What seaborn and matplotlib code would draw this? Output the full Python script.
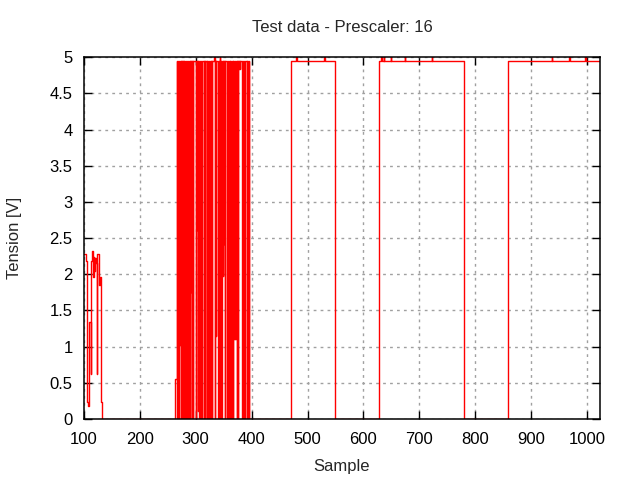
import matplotlib
matplotlib.use("Agg")
import matplotlib.pyplot as plt
import seaborn as sns
import pandas as pd

# first burst: sample where the level changes, and the level (V) from there on
early_samples = [100, 103, 105, 106, 108, 109, 110, 112, 113, 115, 116, 117, 118, 119, 120,
                 122, 123, 124, 127, 129, 131, 133]
early_tension = [2.28, 2.18, 1.97, 0.23, 0.18, 1.27, 1.34, 0.62, 2.18, 2.32, 2.18, 1.96, 2.24, 2.04, 2.22,
                 2.15, 0.62, 2.28, 1.85, 1.96, 0.23, 0.0]

# fast switching part, one value per sample (263 .. 396)
dense_samples = list(range(263, 397))
dense_tension = [0.55, 0.55, 0.55, 4.95, 0.0, 4.95, 0.0, 4.95, 1.02, 4.95,   # 263-272
                 0.0, 4.95, 0.0, 4.95, 0.0, 4.95, 0.0, 4.95, 0.0, 4.95,      # 273-282
                 0.0, 4.95, 0.0, 4.95, 0.0, 4.95, 0.0, 4.95, 1.76, 4.95,     # 283-292
                 0.0, 4.95, 0.0, 4.95, 4.95, 4.95, 4.95, 0.0, 4.95, 2.61,    # 293-302
                 4.95, 0.11, 4.95, 0.0, 4.95, 0.0, 4.95, 0.0, 4.95, 4.95,    # 303-312
                 4.95, 0.0, 4.95, 0.0, 4.95, 4.95, 4.95, 0.0, 4.95, 0.0,     # 313-322
                 4.95, 0.0, 4.95, 4.95, 0.0, 4.95, 0.0, 4.95, 4.95, 4.95,    # 323-332
                 5.0, 0.0, 4.95, 1.15, 4.95, 4.95, 4.95, 0.0, 4.95, 0.0,     # 333-342
                 5.0, 0.0, 4.95, 0.0, 4.95, 1.97, 4.95, 2.42, 4.95, 0.0,     # 343-352
                 4.95, 4.95, 4.95, 0.0, 4.95, 0.0, 4.95, 4.95, 0.0, 4.95,    # 353-362
                 4.95, 0.0, 4.95, 0.0, 4.95, 4.95, 1.10, 4.95, 1.10, 4.95,   # 363-372
                 0.0, 4.95, 0.0, 4.95, 4.83, 4.95, 4.83, 4.95, 4.95, 4.95,   # 373-382
                 0.0, 4.95, 4.95, 4.95, 0.0, 4.95, 4.95, 4.95, 0.0, 4.95,    # 383-392
                 4.95, 0.0, 4.95, 0.0]                                        # 393-396

# long pulses
late_samples = [471, 480, 481, 529, 531, 549,
                627, 632, 633, 636, 637, 649, 650, 674, 675, 722, 723, 780,
                858, 937, 938, 968, 969, 996, 998, 1023]
late_tension = [4.95, 5.0, 4.95, 5.0, 4.95, 0.0,
                4.95, 5.0, 4.95, 5.0, 4.95, 5.0, 4.95, 5.0, 4.95, 5.0, 4.95, 0.0,
                4.95, 5.0, 4.95, 5.0, 4.95, 5.0, 4.95, 4.95]

xticks = [100, 200, 300, 400, 500, 600, 700, 800, 900, 1000]
yticks = [0, 0.5, 1, 1.5, 2, 2.5, 3, 3.5, 4, 4.5, 5]
ylabels = ["0", "0.5", "1", "1.5", "2", "2.5", "3", "3.5", "4", "4.5", "5"]

df = pd.DataFrame({"Sample": early_samples + dense_samples + late_samples,
                   "Tension": early_tension + dense_tension + late_tension})

sns.set_style("ticks")
plt.rcParams["font.family"] = ["Liberation Sans", "DejaVu Sans"]
plt.rcParams["font.size"] = 12

fig = plt.figure(figsize=(6.4, 4.8), dpi=100)
ax = fig.add_axes([0.131, 0.127, 0.8065, 0.754])

sns.lineplot(data=df, x="Sample", y="Tension", color="#ff0000", linewidth=1.0,
             drawstyle="steps-post", estimator=None, sort=False, ax=ax)

ax.set_xlim(100, 1023)
ax.set_ylim(0, 5)
ax.set_xticks(xticks)
ax.set_yticks(yticks)
ax.set_yticklabels(ylabels)
ax.grid(True, color="#a0a0a0", linestyle=(0, (2, 3)), linewidth=1.0)
ax.set_axisbelow(True)
ax.tick_params(direction="in", length=6, width=1, top=True, right=True,
               labelsize=12, colors="black")
ax.tick_params(axis="x", pad=9)
ax.tick_params(axis="y", pad=8)
for s in ax.spines.values():
    s.set_linewidth(1.1)
    s.set_color("black")
    s.set_visible(True)
    s.set_zorder(5)

ax.set_title("Test data - Prescaler: 16", fontsize=12, pad=18)
ax.set_xlabel("Sample", fontsize=12, labelpad=9)
ax.set_ylabel("Tension [V]", fontsize=12, labelpad=20)

fig.savefig("out.png", dpi=100)
